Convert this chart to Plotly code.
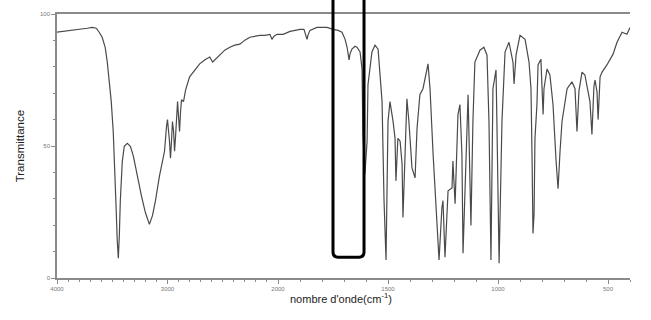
import numpy as np
import plotly.graph_objects as go

# IR spectrum (wavenumber in cm-1, transmittance in %)
wavenumber = [
    4000, 3936, 3873, 3800, 3727, 3682, 3645, 3618, 3591, 3564, 3545, 3527, 3509, 3491,
    3473, 3464, 3455, 3445, 3436, 3427, 3409, 3391, 3364, 3336, 3309, 3273, 3236, 3200,
    3164, 3136, 3109, 3073, 3045, 3027, 3009, 3000, 2982, 2973, 2964, 2955, 2945, 2936,
    2927, 2909, 2900, 2891, 2882, 2873, 2855, 2836, 2800, 2755, 2709, 2664, 2618, 2591,
    2564, 2527, 2482, 2436, 2391, 2345, 2300, 2255, 2209, 2164, 2118, 2073, 2055, 2036,
    2009, 2000,
    1977, 1945, 1923, 1900, 1882, 1873, 1868, 1864, 1855, 1823, 1777, 1750, 1727, 1709,
    1695, 1686, 1677, 1673, 1664, 1650, 1641, 1627, 1618, 1614, 1605, 1595, 1591, 1573,
    1559, 1545, 1527, 1518, 1509, 1500, 1491, 1477, 1468, 1464, 1455, 1445, 1436, 1432,
    1423, 1414, 1405, 1391, 1377, 1368, 1355, 1341, 1318, 1309, 1295, 1277, 1268, 1255,
    1250, 1241, 1227, 1209, 1205, 1195, 1182, 1173, 1164, 1159, 1145, 1136, 1123, 1114,
    1105, 1082, 1064, 1050, 1041, 1032, 1023, 1009, 1005, 995, 982, 968, 950, 932,
    927, 918, 900, 877, 859, 850, 845, 841, 836, 832, 823, 818, 805, 795,
    791, 777, 764, 750, 736, 727, 718, 709, 686, 664, 650, 641, 632, 618,
    605, 582, 573, 564, 559, 550, 545, 536, 527, 505, 477, 459, 436, 414, 400,
]
transmittance = [
    93.1, 93.4, 93.8, 94.2, 94.6, 94.9, 94.6, 93.1, 91.2, 87.4, 81.8, 74.3, 66.8, 55.5,
    38.6, 25.5, 14.3, 7.5, 16.1, 29.3, 44.3, 49.9, 51.0, 49.9, 46.2, 38.6, 31.1, 24.8,
    20.3, 23.6, 29.3, 38.6, 44.3, 48.0, 57.4, 60.0, 51.8, 45.4, 51.8, 59.3, 55.5, 48.0,
    53.7, 66.8, 61.2, 55.5, 63.0, 67.5, 66.8, 71.3, 76.2, 78.8, 81.1, 82.6, 83.7, 81.8,
    82.9, 84.4, 86.3, 87.4, 88.2, 88.6, 90.1, 91.2, 91.6, 91.9, 91.9, 92.3, 90.4, 91.6,
    92.3, 92.3,
    92.3, 93.4, 93.8, 94.2, 94.2, 91.9, 90.4, 91.9, 93.8, 94.9, 94.9, 94.2, 93.8, 93.1,
    90.4, 87.4, 82.6, 84.8, 86.7, 87.8, 87.4, 85.6, 79.2, 54.4, 39.4, 51.8, 73.2, 85.6,
    88.2, 86.7, 66.8, 29.3, 6.8, 59.3, 66.8, 59.3, 52.9, 36.8, 52.9, 51.8, 43.2, 22.9,
    46.9, 67.9, 59.3, 41.7, 37.9, 56.7, 69.4, 71.7, 81.1, 71.7, 46.9, 21.8, 6.8, 26.6,
    29.3, 7.9, 33.0, 34.1, 44.3, 28.1, 61.9, 65.7, 46.9, 9.4, 46.9, 69.4, 19.9, 59.3,
    81.8, 86.3, 87.4, 84.4, 59.3, 6.8, 71.7, 78.8, 59.3, 5.6, 59.3, 85.6, 89.3, 81.8,
    73.5, 84.4, 91.9, 90.4, 81.8, 71.7, 44.3, 16.9, 24.4, 52.9, 65.7, 80.7, 82.9, 61.9,
    71.7, 79.2, 76.9, 65.7, 44.3, 33.8, 48.0, 59.3, 71.7, 74.3, 71.7, 55.5, 70.9, 78.0,
    76.9, 66.8, 54.4, 72.5, 75.0, 70.5, 60.0, 76.2, 78.0, 80.7, 84.8, 89.3, 93.1, 92.3, 94.9,
]

# axis ticks
ticks_high = [4000, 3000, 2000]
ticks_low = [1500, 1000, 500]
ticks_y = [0, 50, 100]
highlight_band = [1750, 1609]   # boxed region (cm-1)

wn = np.array(wavenumber, dtype=float)
tr = np.array(transmittance, dtype=float)
hi = wn >= 2000
lo = wn <= 2000

line_col = "#4a4a4a"
axis_col = "#8a8a8a"
split = (278 - 57) / (630 - 57)

fig = go.Figure()
fig.add_trace(go.Scatter(x=wn[hi], y=tr[hi], mode="lines",
                         line=dict(color=line_col, width=1.2),
                         xaxis="x", yaxis="y", showlegend=False))
fig.add_trace(go.Scatter(x=wn[lo], y=tr[lo], mode="lines",
                         line=dict(color=line_col, width=1.2),
                         xaxis="x2", yaxis="y", showlegend=False))

tickfont = dict(family="Liberation Sans, Arial, sans-serif", size=6, color="#777777")
common_x = dict(showgrid=False, zeroline=False, showline=True, linecolor=axis_col,
                linewidth=1.5, mirror=True, ticks="outside", ticklen=4,
                tickcolor=axis_col, tickfont=tickfont,
                minor=dict(tickmode="linear", tick0=0, dtick=100, ticks="outside",
                           ticklen=2, tickcolor=axis_col))

fig.update_layout(
    width=651, height=320,
    margin=dict(l=57, r=21, t=11, b=42),
    paper_bgcolor="white", plot_bgcolor="white",
    xaxis=dict(domain=[0, split], range=[4000, 2000], tickmode="array",
               tickvals=ticks_high, ticktext=[str(v) for v in ticks_high], **common_x),
    xaxis2=dict(domain=[split, 1], range=[2000, 400], anchor="y", tickmode="array",
                tickvals=ticks_low, ticktext=[str(v) for v in ticks_low], **common_x),
    yaxis=dict(range=[0, 100], tickmode="array", tickvals=ticks_y,
               ticktext=[str(v) for v in ticks_y], showgrid=False, zeroline=False,
               showline=True, linecolor=axis_col, linewidth=1.5, mirror=False,
               ticks="outside", ticklen=4, tickcolor=axis_col, tickfont=tickfont,
               minor=dict(tickmode="linear", tick0=0, dtick=10, ticks="outside",
                          ticklen=2, tickcolor=axis_col)),
    yaxis2=dict(range=[0, 100], anchor="x2", overlaying="y", side="right",
                showgrid=False, zeroline=False, showline=True, linecolor=axis_col,
                linewidth=1.5, showticklabels=False, ticks=""),
    font=dict(family="Liberation Sans, Arial, sans-serif"),
)

# rounded highlight box on the spectrum (x in data, y in paper)
x0, x1 = highlight_band
rx = 22
y0, y1 = 0.079, 1.08
ry = 0.02
path = (f"M {x0},{y1} L {x0},{y0 + ry} Q {x0},{y0} {x0 - rx},{y0} "
        f"L {x1 + rx},{y0} Q {x1},{y0} {x1},{y0 + ry} L {x1},{y1}")
fig.add_shape(type="path", path=path, xref="x2", yref="paper",
              line=dict(color="black", width=3))

fig.add_annotation(text="Transmittance", xref="paper", yref="paper",
                   x=-0.078, y=0.5, textangle=-90, showarrow=False,
                   font=dict(size=11.5, color="#222222"))
fig.add_annotation(text="nombre d'onde(cm<sup>-1</sup>)", xref="paper", yref="paper",
                   x=0.495, y=-0.11, showarrow=False,
                   font=dict(size=11, color="#222222"))

fig.write_html("out.html", config={"displayModeBar": False},
               post_script="document.body.style.margin='0';document.body.style.overflow='hidden';")
